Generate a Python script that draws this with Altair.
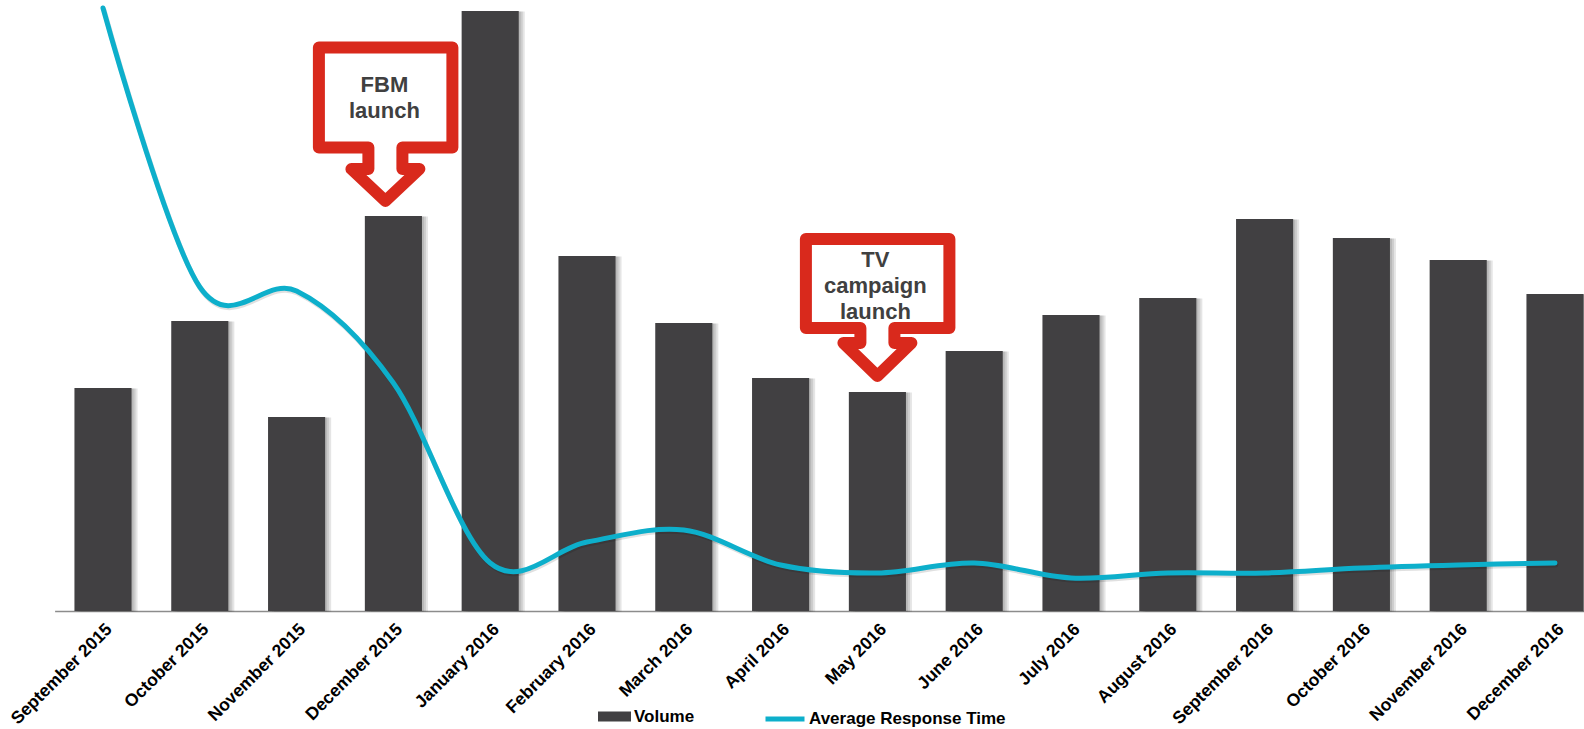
import altair as alt
import pandas as pd

months = ["September 2015", "October 2015", "November 2015", "December 2015",
          "January 2016", "February 2016", "March 2016", "April 2016",
          "May 2016", "June 2016", "July 2016", "August 2016",
          "September 2016", "October 2016", "November 2016", "December 2016"]
volume = [223, 290, 194, 395, 600, 355, 288, 233, 219, 260, 296, 313, 392, 373, 351, 317]
response_time = [603, 324, 320, 228, 48, 69, 81, 46, 38, 48, 33, 38, 38, 43, 46, 48]

annot_months = ["December 2015", "May 2016"]
annot_tips = [410, 235]
annot_texts = ["FBM\nlaunch", "TV\ncampaign\nlaunch"]

BAR = "#414042"
LINE = "#0DAFCB"
RED = "#D9291C"
FONT = "Liberation Sans"

FBM_PATH = ("M -0.665 -1.535 L 0.67 -1.535 L 0.67 -0.535 L 0.17 -0.535 L 0.17 -0.32 "
            "L 0.34 -0.32 L 0 0 L -0.34 -0.32 L -0.17 -0.32 L -0.17 -0.535 L -0.665 -0.535 Z")
TV_PATH = ("M -0.715 -1.37 L 0.72 -1.37 L 0.72 -0.48 L 0.17 -0.48 L 0.17 -0.33 "
           "L 0.34 -0.33 L 0 0 L -0.34 -0.33 L -0.17 -0.33 L -0.17 -0.48 L -0.715 -0.48 Z")

df = pd.DataFrame({"month": months, "volume": volume, "response": response_time,
                   "s_vol": "Volume", "s_resp": "Average Response Time"})
ann = pd.DataFrame({"month": annot_months, "tip": annot_tips, "label": annot_texts})

xscale = alt.Scale(type="band", range=[54.6, 1603.4], paddingInner=0.41, paddingOuter=0.205)
xaxis = alt.Axis(labelAngle=315, labelAlign="right", labelBaseline="top", labelFont=FONT,
                 labelFontSize=17.5, labelFontWeight="bold", labelColor="#000000",
                 labelPadding=9, ticks=False, domainColor="#8c8c8c", domainWidth=1.5,
                 labelOverlap=False, labelBound=False, labelLimit=0)
yscale = alt.Scale(domain=[0, 611], nice=False, zero=True)

def X(bp=None):
    if bp is None:
        return alt.X("month:N", sort=months, scale=xscale, axis=xaxis, title=None)
    return alt.X("month:N", sort=months, scale=xscale, axis=xaxis, title=None, bandPosition=bp)

base = alt.Chart(df)

shadows = [
    base.mark_bar(color="#000000", opacity=0.10, xOffset=k, yOffset=0.5).encode(
        x=X(), y=alt.Y("volume:Q", scale=yscale, axis=None, title=None))
    for k in (2, 4, 6)
]

bars = base.mark_bar().encode(
    x=X(),
    y=alt.Y("volume:Q", scale=yscale, axis=None, title=None),
    fill=alt.Fill("s_vol:N", scale=alt.Scale(domain=["Volume"], range=[BAR]),
                  legend=alt.Legend(title=None, orient="none", legendX=598, legendY=700,
                                    direction="horizontal",
                                    symbolType="M -1 -0.3 L 1 -0.3 L 1 0.3 L -1 0.3 Z",
                                    symbolSize=1089, symbolStrokeWidth=0,
                                    labelFont=FONT, labelFontSize=17, labelFontWeight="bold",
                                    labelColor="#000000", labelOffset=3, labelLimit=0)),
)

line_shadow = base.mark_line(color="#000000", opacity=0.12, strokeWidth=5, strokeCap="round",
                             interpolate="cardinal", tension=0, xOffset=1, yOffset=2).encode(
    x=X(0.5), y=alt.Y("response:Q", scale=yscale, axis=None, title=None))

line = base.mark_line(strokeWidth=5, strokeCap="round", interpolate="cardinal", tension=0).encode(
    x=X(0.5),
    y=alt.Y("response:Q", scale=yscale, axis=None, title=None),
    stroke=alt.Stroke("s_resp:N", scale=alt.Scale(domain=["Average Response Time"], range=[LINE]),
                      legend=alt.Legend(title=None, orient="none", legendX=763, legendY=697,
                                        direction="horizontal", symbolType="stroke",
                                        symbolSize=1521, symbolStrokeWidth=5,
                                        labelFont=FONT, labelFontSize=17, labelFontWeight="bold",
                                        labelColor="#000000", labelOffset=2, labelLimit=0)),
)

def callout(idx, path, dx, tdx):
    d = alt.Chart(ann.iloc[[idx]])
    shape = d.mark_point(shape=path, size=40000, filled=True, fill="#ffffff", stroke=RED,
                         strokeWidth=12, strokeJoin="round", opacity=1, fillOpacity=1,
                         strokeOpacity=1, xOffset=dx).encode(
        x=X(0.5), y=alt.Y("tip:Q", scale=yscale, axis=None, title=None))
    txt = d.mark_text(lineBreak="\n", font=FONT, fontSize=22, fontWeight="bold", color="#404040",
                      align="center", baseline="alphabetic", dy=-109, lineHeight=26,
                      xOffset=tdx).encode(
        x=X(0.5), y=alt.Y("tip:Q", scale=yscale, axis=None, title=None), text="label:N")
    return [shape, txt]

layers = shadows + [bars, line_shadow, line] + callout(0, FBM_PATH, -8, -9) + callout(1, TV_PATH, 0, -2)

chart = alt.layer(*layers).properties(
    width=1584, height=611,
    autosize=alt.AutoSizeParams(type="none"),
    padding={"left": 0, "top": 0, "right": 0, "bottom": 118},
    background="#ffffff",
).configure_view(stroke=None)

chart.save("out.html", embed_options={"renderer": "svg", "actions": False})
